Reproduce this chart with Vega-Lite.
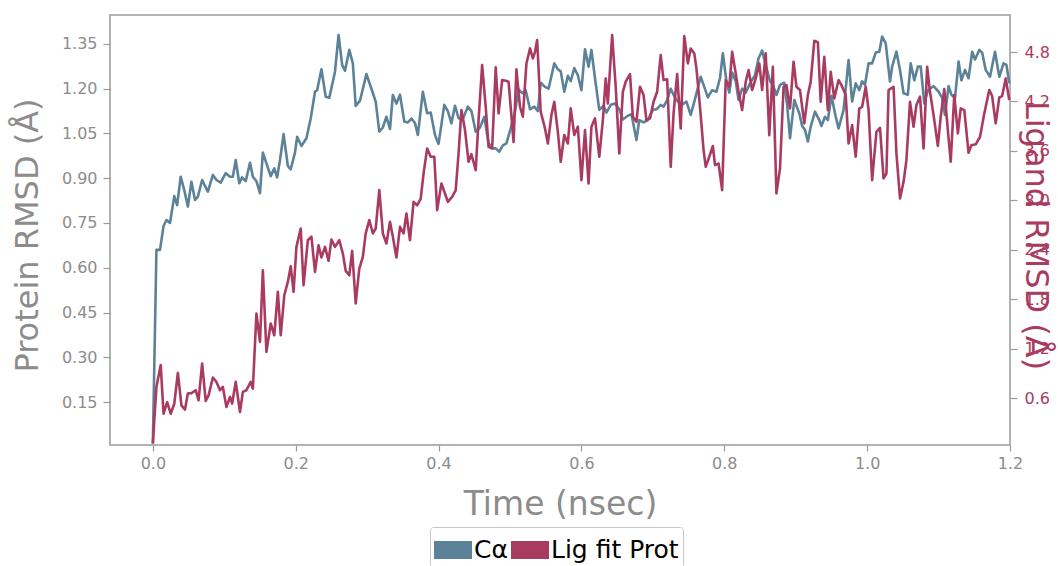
{
"$schema": "https://vega.github.io/schema/vega-lite/v6.json",
"width": 900, "height": 430,
"autosize": "none",
"padding": {"left": 110, "top": 15, "right": 48, "bottom": 121},
"background": "white",
"config": {
  "view": {"stroke": "#9a9a9a", "strokeWidth": 1.5},
  "font": "DejaVu Sans",
  "axis": {"grid": false, "domain": false, "tickColor": "#9a9a9a", "tickWidth": 1.2, "labelFont": "DejaVu Sans", "titleFont": "DejaVu Sans", "titleFontWeight": "normal", "labelFlush": false, "labelOverlap": false, "labelBound": false}
},
"datasets": {
"ca": [
{"t":0.000,"rmsd":0.01},{"t":0.005,"rmsd":0.66},{"t":0.010,"rmsd":0.66},{"t":0.015,"rmsd":0.74},{"t":0.019,"rmsd":0.76},{"t":0.024,"rmsd":0.75},{"t":0.030,"rmsd":0.84},{"t":0.034,"rmsd":0.81},{"t":0.039,"rmsd":0.905},{"t":0.044,"rmsd":0.86},{"t":0.049,"rmsd":0.805},{"t":0.054,"rmsd":0.888},{"t":0.059,"rmsd":0.827},{"t":0.063,"rmsd":0.838},{"t":0.069,"rmsd":0.894},{"t":0.077,"rmsd":0.855},{"t":0.084,"rmsd":0.911},{"t":0.089,"rmsd":0.894},{"t":0.095,"rmsd":0.885},{"t":0.102,"rmsd":0.917},{"t":0.108,"rmsd":0.905},{"t":0.112,"rmsd":0.905},{"t":0.116,"rmsd":0.961},{"t":0.121,"rmsd":0.883},{"t":0.125,"rmsd":0.903},{"t":0.130,"rmsd":0.89},{"t":0.136,"rmsd":0.952},{"t":0.140,"rmsd":0.905},{"t":0.145,"rmsd":0.89},{"t":0.150,"rmsd":0.85},{"t":0.154,"rmsd":0.986},{"t":0.159,"rmsd":0.95},{"t":0.165,"rmsd":0.907},{"t":0.170,"rmsd":0.933},{"t":0.174,"rmsd":0.903},{"t":0.178,"rmsd":0.961},{"t":0.183,"rmsd":1.048},{"t":0.189,"rmsd":0.941},{"t":0.193,"rmsd":0.93},{"t":0.199,"rmsd":0.986},{"t":0.202,"rmsd":1.039},{"t":0.208,"rmsd":1.008},{"t":0.215,"rmsd":1.034},{"t":0.221,"rmsd":1.10},{"t":0.227,"rmsd":1.19},{"t":0.230,"rmsd":1.195},{"t":0.236,"rmsd":1.265},{"t":0.242,"rmsd":1.173},{"t":0.247,"rmsd":1.17},{"t":0.255,"rmsd":1.257},{"t":0.260,"rmsd":1.38},{"t":0.265,"rmsd":1.28},{"t":0.269,"rmsd":1.26},{"t":0.275,"rmsd":1.33},{"t":0.280,"rmsd":1.285},{"t":0.284,"rmsd":1.142},{"t":0.290,"rmsd":1.16},{"t":0.299,"rmsd":1.249},{"t":0.306,"rmsd":1.2},{"t":0.312,"rmsd":1.157},{"t":0.317,"rmsd":1.056},{"t":0.322,"rmsd":1.07},{"t":0.327,"rmsd":1.106},{"t":0.332,"rmsd":1.065},{"t":0.336,"rmsd":1.179},{"t":0.341,"rmsd":1.15},{"t":0.346,"rmsd":1.18},{"t":0.352,"rmsd":1.09},{"t":0.357,"rmsd":1.087},{"t":0.362,"rmsd":1.1},{"t":0.367,"rmsd":1.085},{"t":0.371,"rmsd":1.045},{"t":0.378,"rmsd":1.19},{"t":0.384,"rmsd":1.118},{"t":0.389,"rmsd":1.12},{"t":0.395,"rmsd":1.045},{"t":0.400,"rmsd":1.015},{"t":0.408,"rmsd":1.146},{"t":0.413,"rmsd":1.125},{"t":0.418,"rmsd":1.084},{"t":0.423,"rmsd":1.143},{"t":0.428,"rmsd":1.101},{"t":0.434,"rmsd":1.098},{"t":0.441,"rmsd":1.14},{"t":0.446,"rmsd":1.125},{"t":0.452,"rmsd":1.056},{"t":0.458,"rmsd":1.07},{"t":0.464,"rmsd":1.106},{"t":0.470,"rmsd":1.017},{"t":0.476,"rmsd":1.0},{"t":0.480,"rmsd":1.0},{"t":0.485,"rmsd":0.989},{"t":0.490,"rmsd":1.01},{"t":0.495,"rmsd":1.017},{"t":0.501,"rmsd":1.067},{"t":0.507,"rmsd":1.123},{"t":0.512,"rmsd":1.198},{"t":0.517,"rmsd":1.185},{"t":0.522,"rmsd":1.195},{"t":0.528,"rmsd":1.131},{"t":0.534,"rmsd":1.14},{"t":0.539,"rmsd":1.125},{"t":0.543,"rmsd":1.22},{"t":0.549,"rmsd":1.206},{"t":0.554,"rmsd":1.2},{"t":0.562,"rmsd":1.285},{"t":0.567,"rmsd":1.265},{"t":0.571,"rmsd":1.258},{"t":0.576,"rmsd":1.19},{"t":0.581,"rmsd":1.243},{"t":0.585,"rmsd":1.225},{"t":0.590,"rmsd":1.269},{"t":0.595,"rmsd":1.245},{"t":0.600,"rmsd":1.195},{"t":0.605,"rmsd":1.332},{"t":0.610,"rmsd":1.274},{"t":0.614,"rmsd":1.33},{"t":0.619,"rmsd":1.235},{"t":0.625,"rmsd":1.129},{"t":0.631,"rmsd":1.143},{"t":0.635,"rmsd":1.12},{"t":0.641,"rmsd":1.146},{"t":0.647,"rmsd":1.15},{"t":0.653,"rmsd":1.131},{"t":0.658,"rmsd":1.097},{"t":0.664,"rmsd":1.108},{"t":0.670,"rmsd":1.115},{"t":0.677,"rmsd":1.028},{"t":0.681,"rmsd":1.095},{"t":0.687,"rmsd":1.087},{"t":0.693,"rmsd":1.095},{"t":0.700,"rmsd":1.129},{"t":0.705,"rmsd":1.131},{"t":0.711,"rmsd":1.146},{"t":0.715,"rmsd":1.14},{"t":0.720,"rmsd":1.162},{"t":0.725,"rmsd":1.2},{"t":0.731,"rmsd":1.17},{"t":0.735,"rmsd":1.157},{"t":0.741,"rmsd":1.146},{"t":0.747,"rmsd":1.157},{"t":0.753,"rmsd":1.112},{"t":0.759,"rmsd":1.165},{"t":0.767,"rmsd":1.24},{"t":0.771,"rmsd":1.213},{"t":0.777,"rmsd":1.171},{"t":0.783,"rmsd":1.195},{"t":0.789,"rmsd":1.19},{"t":0.794,"rmsd":1.235},{"t":0.798,"rmsd":1.319},{"t":0.803,"rmsd":1.225},{"t":0.807,"rmsd":1.187},{"t":0.811,"rmsd":1.254},{"t":0.816,"rmsd":1.225},{"t":0.820,"rmsd":1.162},{"t":0.825,"rmsd":1.2},{"t":0.830,"rmsd":1.187},{"t":0.836,"rmsd":1.218},{"t":0.843,"rmsd":1.245},{"t":0.848,"rmsd":1.302},{"t":0.853,"rmsd":1.328},{"t":0.858,"rmsd":1.28},{"t":0.864,"rmsd":1.225},{"t":0.868,"rmsd":1.213},{"t":0.873,"rmsd":1.179},{"t":0.878,"rmsd":1.213},{"t":0.884,"rmsd":1.22},{"t":0.888,"rmsd":1.146},{"t":0.892,"rmsd":1.034},{"t":0.898,"rmsd":1.162},{"t":0.905,"rmsd":1.118},{"t":0.909,"rmsd":1.075},{"t":0.913,"rmsd":1.062},{"t":0.917,"rmsd":1.023},{"t":0.921,"rmsd":1.073},{"t":0.927,"rmsd":1.123},{"t":0.933,"rmsd":1.095},{"t":0.936,"rmsd":1.075},{"t":0.941,"rmsd":1.106},{"t":0.945,"rmsd":1.095},{"t":0.950,"rmsd":1.176},{"t":0.956,"rmsd":1.106},{"t":0.960,"rmsd":1.067},{"t":0.967,"rmsd":1.129},{"t":0.974,"rmsd":1.296},{"t":0.979,"rmsd":1.157},{"t":0.984,"rmsd":1.218},{"t":0.989,"rmsd":1.195},{"t":0.993,"rmsd":1.225},{"t":0.997,"rmsd":1.213},{"t":1.002,"rmsd":1.285},{"t":1.007,"rmsd":1.285},{"t":1.012,"rmsd":1.321},{"t":1.017,"rmsd":1.324},{"t":1.021,"rmsd":1.375},{"t":1.026,"rmsd":1.352},{"t":1.032,"rmsd":1.224},{"t":1.035,"rmsd":1.274},{"t":1.041,"rmsd":1.324},{"t":1.046,"rmsd":1.263},{"t":1.051,"rmsd":1.185},{"t":1.057,"rmsd":1.18},{"t":1.061,"rmsd":1.285},{"t":1.066,"rmsd":1.228},{"t":1.071,"rmsd":1.274},{"t":1.075,"rmsd":1.274},{"t":1.080,"rmsd":1.151},{"t":1.085,"rmsd":1.194},{"t":1.093,"rmsd":1.209},{"t":1.100,"rmsd":1.19},{"t":1.105,"rmsd":1.169},{"t":1.109,"rmsd":1.112},{"t":1.114,"rmsd":1.209},{"t":1.118,"rmsd":1.18},{"t":1.123,"rmsd":1.169},{"t":1.128,"rmsd":1.291},{"t":1.132,"rmsd":1.228},{"t":1.137,"rmsd":1.263},{"t":1.142,"rmsd":1.235},{"t":1.147,"rmsd":1.324},{"t":1.151,"rmsd":1.298},{"t":1.157,"rmsd":1.33},{"t":1.161,"rmsd":1.321},{"t":1.166,"rmsd":1.263},{"t":1.172,"rmsd":1.24},{"t":1.179,"rmsd":1.324},{"t":1.185,"rmsd":1.24},{"t":1.191,"rmsd":1.285},{"t":1.195,"rmsd":1.28},{"t":1.199,"rmsd":1.218}
],
"lig": [
{"t":0.000,"rmsd":0.05},{"t":0.005,"rmsd":0.735},{"t":0.011,"rmsd":1.0},{"t":0.015,"rmsd":0.41},{"t":0.020,"rmsd":0.55},{"t":0.025,"rmsd":0.41},{"t":0.030,"rmsd":0.53},{"t":0.035,"rmsd":0.905},{"t":0.040,"rmsd":0.51},{"t":0.045,"rmsd":0.46},{"t":0.049,"rmsd":0.655},{"t":0.054,"rmsd":0.66},{"t":0.060,"rmsd":0.695},{"t":0.064,"rmsd":0.573},{"t":0.069,"rmsd":1.02},{"t":0.074,"rmsd":0.565},{"t":0.078,"rmsd":0.633},{"t":0.084,"rmsd":0.849},{"t":0.089,"rmsd":0.796},{"t":0.094,"rmsd":0.695},{"t":0.098,"rmsd":0.735},{"t":0.103,"rmsd":0.492},{"t":0.108,"rmsd":0.614},{"t":0.111,"rmsd":0.533},{"t":0.116,"rmsd":0.796},{"t":0.122,"rmsd":0.431},{"t":0.126,"rmsd":0.675},{"t":0.131,"rmsd":0.695},{"t":0.137,"rmsd":0.796},{"t":0.140,"rmsd":0.715},{"t":0.145,"rmsd":1.626},{"t":0.150,"rmsd":1.281},{"t":0.154,"rmsd":2.152},{"t":0.159,"rmsd":1.16},{"t":0.165,"rmsd":1.505},{"t":0.170,"rmsd":1.362},{"t":0.175,"rmsd":1.889},{"t":0.179,"rmsd":1.362},{"t":0.184,"rmsd":1.848},{"t":0.189,"rmsd":2.01},{"t":0.193,"rmsd":2.2},{"t":0.197,"rmsd":1.889},{"t":0.201,"rmsd":2.435},{"t":0.207,"rmsd":2.658},{"t":0.211,"rmsd":1.97},{"t":0.217,"rmsd":2.516},{"t":0.222,"rmsd":2.56},{"t":0.227,"rmsd":2.132},{"t":0.232,"rmsd":2.455},{"t":0.236,"rmsd":2.306},{"t":0.241,"rmsd":2.435},{"t":0.246,"rmsd":2.266},{"t":0.250,"rmsd":2.525},{"t":0.255,"rmsd":2.435},{"t":0.261,"rmsd":2.516},{"t":0.266,"rmsd":2.354},{"t":0.270,"rmsd":2.144},{"t":0.275,"rmsd":2.09},{"t":0.279,"rmsd":2.386},{"t":0.284,"rmsd":1.748},{"t":0.289,"rmsd":2.172},{"t":0.294,"rmsd":2.314},{"t":0.298,"rmsd":2.598},{"t":0.303,"rmsd":2.76},{"t":0.308,"rmsd":2.598},{"t":0.312,"rmsd":2.658},{"t":0.317,"rmsd":3.124},{"t":0.322,"rmsd":2.598},{"t":0.327,"rmsd":2.476},{"t":0.332,"rmsd":2.74},{"t":0.336,"rmsd":2.557},{"t":0.341,"rmsd":2.306},{"t":0.346,"rmsd":2.678},{"t":0.351,"rmsd":2.598},{"t":0.355,"rmsd":2.84},{"t":0.360,"rmsd":2.516},{"t":0.365,"rmsd":2.982},{"t":0.370,"rmsd":2.94},{"t":0.375,"rmsd":3.02},{"t":0.379,"rmsd":3.327},{"t":0.384,"rmsd":3.63},{"t":0.389,"rmsd":3.53},{"t":0.394,"rmsd":3.53},{"t":0.398,"rmsd":2.881},{"t":0.404,"rmsd":3.205},{"t":0.409,"rmsd":3.083},{"t":0.413,"rmsd":2.982},{"t":0.419,"rmsd":3.043},{"t":0.424,"rmsd":3.124},{"t":0.428,"rmsd":3.57},{"t":0.432,"rmsd":4.096},{"t":0.437,"rmsd":3.853},{"t":0.442,"rmsd":3.468},{"t":0.446,"rmsd":3.56},{"t":0.452,"rmsd":3.367},{"t":0.456,"rmsd":3.974},{"t":0.461,"rmsd":4.642},{"t":0.466,"rmsd":4.136},{"t":0.470,"rmsd":3.65},{"t":0.475,"rmsd":3.63},{"t":0.480,"rmsd":4.614},{"t":0.484,"rmsd":4.055},{"t":0.489,"rmsd":4.46},{"t":0.494,"rmsd":4.452},{"t":0.498,"rmsd":4.44},{"t":0.505,"rmsd":3.71},{"t":0.509,"rmsd":4.59},{"t":0.514,"rmsd":4.136},{"t":0.518,"rmsd":4.015},{"t":0.523,"rmsd":4.662},{"t":0.528,"rmsd":4.844},{"t":0.532,"rmsd":4.723},{"t":0.535,"rmsd":4.80},{"t":0.538,"rmsd":4.946},{"t":0.543,"rmsd":4.075},{"t":0.549,"rmsd":3.873},{"t":0.553,"rmsd":3.69},{"t":0.558,"rmsd":4.035},{"t":0.562,"rmsd":4.196},{"t":0.567,"rmsd":3.83},{"t":0.571,"rmsd":3.468},{"t":0.576,"rmsd":3.793},{"t":0.581,"rmsd":3.69},{"t":0.585,"rmsd":4.116},{"t":0.590,"rmsd":3.793},{"t":0.595,"rmsd":3.894},{"t":0.600,"rmsd":3.245},{"t":0.605,"rmsd":3.853},{"t":0.610,"rmsd":3.205},{"t":0.614,"rmsd":3.894},{"t":0.619,"rmsd":3.995},{"t":0.625,"rmsd":3.529},{"t":0.630,"rmsd":3.974},{"t":0.634,"rmsd":4.48},{"t":0.637,"rmsd":4.177},{"t":0.643,"rmsd":5.006},{"t":0.648,"rmsd":4.379},{"t":0.653,"rmsd":3.57},{"t":0.658,"rmsd":4.318},{"t":0.662,"rmsd":4.44},{"t":0.668,"rmsd":4.533},{"t":0.672,"rmsd":4.015},{"t":0.677,"rmsd":3.954},{"t":0.682,"rmsd":4.379},{"t":0.687,"rmsd":4.278},{"t":0.691,"rmsd":3.974},{"t":0.696,"rmsd":3.995},{"t":0.701,"rmsd":4.197},{"t":0.706,"rmsd":4.318},{"t":0.711,"rmsd":4.764},{"t":0.715,"rmsd":4.46},{"t":0.720,"rmsd":4.47},{"t":0.725,"rmsd":3.407},{"t":0.729,"rmsd":4.055},{"t":0.734,"rmsd":4.533},{"t":0.739,"rmsd":3.873},{"t":0.744,"rmsd":4.994},{"t":0.749,"rmsd":4.662},{"t":0.753,"rmsd":4.844},{"t":0.758,"rmsd":4.784},{"t":0.761,"rmsd":4.602},{"t":0.766,"rmsd":4.136},{"t":0.771,"rmsd":3.61},{"t":0.774,"rmsd":3.407},{"t":0.779,"rmsd":3.529},{"t":0.784,"rmsd":3.66},{"t":0.787,"rmsd":3.427},{"t":0.792,"rmsd":3.447},{"t":0.797,"rmsd":3.124},{"t":0.802,"rmsd":4.46},{"t":0.807,"rmsd":4.379},{"t":0.811,"rmsd":4.804},{"t":0.816,"rmsd":4.54},{"t":0.820,"rmsd":4.318},{"t":0.825,"rmsd":4.096},{"t":0.830,"rmsd":4.44},{"t":0.834,"rmsd":4.582},{"t":0.839,"rmsd":4.339},{"t":0.844,"rmsd":4.48},{"t":0.849,"rmsd":4.662},{"t":0.853,"rmsd":4.339},{"t":0.858,"rmsd":4.784},{"t":0.863,"rmsd":3.792},{"t":0.868,"rmsd":4.622},{"t":0.873,"rmsd":3.084},{"t":0.878,"rmsd":3.387},{"t":0.883,"rmsd":4.379},{"t":0.887,"rmsd":4.4},{"t":0.892,"rmsd":4.116},{"t":0.897,"rmsd":4.683},{"t":0.901,"rmsd":4.379},{"t":0.906,"rmsd":4.339},{"t":0.912,"rmsd":3.934},{"t":0.917,"rmsd":4.278},{"t":0.921,"rmsd":4.44},{"t":0.926,"rmsd":4.937},{"t":0.931,"rmsd":4.92},{"t":0.935,"rmsd":4.197},{"t":0.940,"rmsd":4.743},{"t":0.945,"rmsd":4.096},{"t":0.949,"rmsd":4.56},{"t":0.954,"rmsd":4.238},{"t":0.960,"rmsd":4.46},{"t":0.964,"rmsd":4.4},{"t":0.970,"rmsd":4.278},{"t":0.974,"rmsd":3.69},{"t":0.979,"rmsd":3.914},{"t":0.984,"rmsd":3.529},{"t":0.989,"rmsd":4.116},{"t":0.993,"rmsd":4.136},{"t":0.998,"rmsd":4.379},{"t":1.002,"rmsd":4.1},{"t":1.007,"rmsd":3.245},{"t":1.013,"rmsd":3.832},{"t":1.018,"rmsd":3.88},{"t":1.023,"rmsd":3.266},{"t":1.027,"rmsd":3.326},{"t":1.030,"rmsd":4.339},{"t":1.037,"rmsd":4.379},{"t":1.041,"rmsd":3.57},{"t":1.046,"rmsd":3.023},{"t":1.051,"rmsd":3.225},{"t":1.055,"rmsd":3.488},{"t":1.060,"rmsd":4.197},{"t":1.065,"rmsd":3.893},{"t":1.069,"rmsd":4.157},{"t":1.074,"rmsd":4.258},{"t":1.079,"rmsd":3.63},{"t":1.084,"rmsd":4.622},{"t":1.088,"rmsd":4.318},{"t":1.093,"rmsd":4.035},{"t":1.099,"rmsd":3.66},{"t":1.103,"rmsd":4.015},{"t":1.108,"rmsd":4.35},{"t":1.113,"rmsd":3.853},{"t":1.117,"rmsd":3.468},{"t":1.122,"rmsd":4.278},{"t":1.127,"rmsd":3.813},{"t":1.131,"rmsd":4.116},{"t":1.136,"rmsd":4.096},{"t":1.142,"rmsd":3.577},{"t":1.146,"rmsd":3.67},{"t":1.152,"rmsd":3.68},{"t":1.158,"rmsd":3.77},{"t":1.164,"rmsd":4.055},{"t":1.171,"rmsd":4.339},{"t":1.175,"rmsd":4.266},{"t":1.180,"rmsd":3.934},{"t":1.185,"rmsd":4.25},{"t":1.189,"rmsd":4.266},{"t":1.194,"rmsd":4.48},{"t":1.199,"rmsd":4.217}
]
},
"layer": [
  {
    "data": {"name": "ca"},
    "mark": {"type": "line", "strokeWidth": 2.6, "strokeJoin": "round"},
    "encoding": {
      "x": {"field": "t", "type": "quantitative", "scale": {"domain": [-0.06, 1.2], "nice": false, "zero": false},
        "axis": {"values": [0, 0.2, 0.4, 0.6, 0.8, 1.0, 1.2], "format": ".1f", "labelColor": "#8c8c8c", "labelFontSize": 16, "tickSize": 6, "labelPadding": 4,
          "title": "Time (nsec)", "titleColor": "#8c8c8c", "titleFontSize": 33, "titleX": 450, "titleY": 69, "titleBaseline": "alphabetic", "titleAlign": "center"}},
      "y": {"field": "rmsd", "type": "quantitative", "scale": {"domain": [0.006, 1.447], "nice": false, "zero": false},
        "axis": {"orient": "left", "values": [0.15, 0.3, 0.45, 0.6, 0.75, 0.9, 1.05, 1.2, 1.35], "format": ".2f", "labelColor": "#8c8c8c", "labelFontSize": 16, "tickSize": 7, "labelPadding": 6,
          "title": "Protein RMSD (Å)", "titleColor": "#8c8c8c", "titleFontSize": 32, "titleX": -73, "titleY": 220, "titleAngle": -90, "titleBaseline": "alphabetic", "titleAlign": "center"}},
      "color": {"datum": "Cα", "type": "nominal", "scale": {"domain": ["Cα", "Lig fit Prot"], "range": ["#5b8299", "#a93b60"]},
        "legend": {"orient": "none", "legendX": 320, "legendY": 512, "direction": "horizontal", "title": null,
          "symbolType": "M-1,-0.474H1V0.474H-1Z", "symbolSize": 1444, "symbolStrokeWidth": 0, "symbolOpacity": 1,
          "labelFontSize": 25, "labelColor": "#000000", "labelFont": "DejaVu Sans", "labelOffset": 2, "columnPadding": 3, "padding": 4,
          "strokeColor": "#c8c8c8", "cornerRadius": 3, "fillColor": "white",
          "encode": {"symbols": {"update": {"fill": {"scale": "color", "field": "value"}, "strokeWidth": {"value": 0}}}}}}
    }
  },
  {
    "data": {"name": "lig"},
    "mark": {"type": "line", "strokeWidth": 2.6, "strokeJoin": "round"},
    "encoding": {
      "x": {"field": "t", "type": "quantitative", "scale": {"domain": [-0.06, 1.2], "nice": false, "zero": false},
        "axis": {"values": [0, 0.2, 0.4, 0.6, 0.8, 1.0, 1.2], "format": ".1f", "labelColor": "#8c8c8c", "labelFontSize": 16, "tickSize": 6, "labelPadding": 4,
          "title": "Time (nsec)", "titleColor": "#8c8c8c", "titleFontSize": 33, "titleX": 450, "titleY": 69, "titleBaseline": "alphabetic", "titleAlign": "center"}},
      "y": {"field": "rmsd", "type": "quantitative", "scale": {"domain": [0.03, 5.25], "nice": false, "zero": false},
        "axis": {"orient": "right", "values": [0.6, 1.2, 1.8, 2.4, 3.0, 3.6, 4.2, 4.8], "format": ".1f", "labelColor": "#a93b60", "labelFontSize": 16, "tickSize": 7, "labelPadding": 7,
          "title": "Ligand RMSD (Å)", "titleColor": "#a93b60", "titleFontSize": 32, "titleX": 15, "titleY": 220, "titleAngle": 90, "titleBaseline": "alphabetic", "titleAlign": "center"}},
      "color": {"datum": "Lig fit Prot", "type": "nominal"}
    }
  }
],
"resolve": {"scale": {"y": "independent"}}
}
